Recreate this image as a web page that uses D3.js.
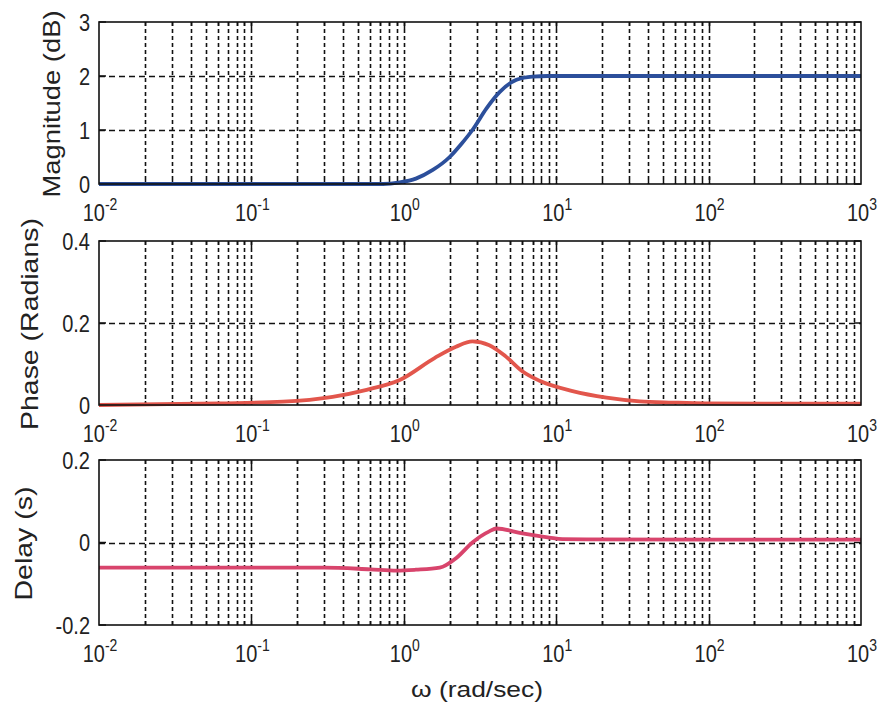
<!DOCTYPE html>
<html>
<head>
<meta charset="utf-8">
<script src="https://cdn.jsdelivr.net/npm/d3@7"></script>
<style>
  html, body { margin: 0; padding: 0; background: #fff; }
  svg { display: block; font-family: "Liberation Sans", Arial, sans-serif; }
</style>
</head>
<body>
<svg id="chart" width="879" height="707"></svg>
<script>
// Frequency response: magnitude, phase and delay against ω (rad/sec)
const omegaMag = [0.01, 0.1, 0.5, 0.73, 0.94, 1.2, 1.55, 2.0, 2.4, 2.82, 3.49, 4.25, 5.49, 6.98, 8.8, 12, 100, 1000];
const magnitude = [0, 0, 0, 0, 0.03, 0.1, 0.26, 0.5, 0.75, 1.0, 1.4, 1.7, 1.93, 1.99, 2.0, 2.0, 2.0, 2.0];

const omegaPhase = [0.01, 0.062, 0.161, 0.341, 0.57, 0.94, 1.6, 2.2, 2.82, 3.64, 4.68, 5.96, 7.78, 12.8, 21.4, 35.3, 58, 96, 1000];
const phase = [0, 0.004, 0.008, 0.02, 0.037, 0.061, 0.115, 0.142, 0.155, 0.146, 0.118, 0.083, 0.059, 0.034, 0.018, 0.009, 0.006, 0.004, 0.003];

const omegaDelay = [0.01, 0.3, 0.6, 0.9, 1.2, 1.72, 2.22, 2.82, 3.64, 4.06, 6.0, 9.0, 11, 100, 1000];
const delay = [-0.061, -0.061, -0.065, -0.068, -0.066, -0.061, -0.037, 0.0, 0.027, 0.034, 0.022, 0.012, 0.008, 0.007, 0.007];

const xDecades = [-2, -1, 0, 1, 2, 3];
const magTicks = [0, 1, 2, 3];
const phaseTicks = [0, 0.2, 0.4];
const delayTicks = [-0.2, 0, 0.2];

const panels = [
  { top: 22, bottom: 184, domain: [0, 3], ticks: magTicks, fmt: d => String(d),
    xs: omegaMag, ys: magnitude, color: "#2c4f9b",
    label: "Magnitude (dB)", labelX: 60, labelLen: 187 },
  { top: 241, bottom: 405, domain: [0, 0.4], ticks: phaseTicks, fmt: d => d === 0 ? "0" : d.toFixed(1),
    xs: omegaPhase, ys: phase, color: "#e2564c",
    label: "Phase (Radians)", labelX: 38, labelLen: 212 },
  { top: 460, bottom: 625, domain: [-0.2, 0.2], ticks: delayTicks, fmt: d => d === 0 ? "0" : d.toFixed(1),
    xs: omegaDelay, ys: delay, color: "#d8446c",
    label: "Delay (s)", labelX: 32, labelLen: 114 }
];

const svg = d3.select("#chart");
const x = d3.scaleLog().domain([1e-2, 1e3]).range([99, 861]);
const px = v => Math.round(x(v)) + 0.5;

// minor and major grid positions on the log axis
const gridX = [];
for (let k = -2; k < 3; k++) {
  for (let m = 1; m <= 9; m++) {
    const v = m * Math.pow(10, k);
    if (v > 1e-2) gridX.push(v);
  }
}

const ink = "#111";

panels.forEach(p => {
  const y = d3.scaleLinear().domain(p.domain).range([p.bottom, p.top]);
  const g = svg.append("g");

  // vertical grid
  g.selectAll(".vg").data(gridX).join("line")
    .attr("x1", px).attr("x2", px)
    .attr("y1", p.top).attr("y2", p.bottom)
    .attr("stroke", ink).attr("stroke-width", 1.6)
    .attr("stroke-dasharray", "4,3");

  // horizontal grid
  g.selectAll(".hg").data(p.ticks.slice(1, -1)).join("line")
    .attr("x1", 99).attr("x2", 861)
    .attr("y1", d => Math.round(y(d)) + 0.5).attr("y2", d => Math.round(y(d)) + 0.5)
    .attr("stroke", ink).attr("stroke-width", 1.4)
    .attr("stroke-dasharray", "6,4");

  // inward tick marks on all four edges
  const tickLen = d => Number.isInteger(Math.log10(d)) ? 7 : 4;
  g.selectAll(".tb").data(gridX).join("line")
    .attr("x1", px).attr("x2", px)
    .attr("y1", p.bottom).attr("y2", d => p.bottom - tickLen(d))
    .attr("stroke", ink).attr("stroke-width", 1.5);
  g.selectAll(".tt").data(gridX).join("line")
    .attr("x1", px).attr("x2", px)
    .attr("y1", p.top).attr("y2", d => p.top + tickLen(d))
    .attr("stroke", ink).attr("stroke-width", 1.5);
  g.selectAll(".tl").data(p.ticks).join("line")
    .attr("x1", 99).attr("x2", 106)
    .attr("y1", d => y(d)).attr("y2", d => y(d))
    .attr("stroke", ink).attr("stroke-width", 1.5);
  g.selectAll(".tr").data(p.ticks).join("line")
    .attr("x1", 861).attr("x2", 854)
    .attr("y1", d => y(d)).attr("y2", d => y(d))
    .attr("stroke", ink).attr("stroke-width", 1.5);

  // data curve
  const pts = p.xs.map((w, i) => [w, p.ys[i]]);
  const line = d3.line().x(d => x(d[0])).y(d => y(d[1])).curve(d3.curveMonotoneX);
  g.append("path").datum(pts)
    .attr("d", line)
    .attr("fill", "none")
    .attr("stroke", p.color)
    .attr("stroke-width", 3.8)
    .attr("stroke-linejoin", "round")
    .attr("stroke-linecap", "butt");

  // frame
  g.append("rect")
    .attr("x", 99).attr("y", p.top)
    .attr("width", 762).attr("height", p.bottom - p.top)
    .attr("fill", "none").attr("stroke", ink).attr("stroke-width", 1.6);

  // y tick labels
  g.selectAll(".yl").data(p.ticks).join("g")
    .attr("transform", d => `translate(90,${y(d) + 8.5}) scale(1,1.2)`)
    .append("text")
    .attr("text-anchor", "end")
    .attr("font-size", 20)
    .attr("fill", "#222")
    .text(p.fmt);

  // x tick labels: 10 with superscript exponent
  const xl = g.selectAll(".xl").data(xDecades).join("g")
    .attr("transform", d => `translate(${x(Math.pow(10, d)) + 1},${p.bottom + 37}) scale(1,1.2)`)
    .append("text")
    .attr("text-anchor", "middle")
    .attr("font-size", 20)
    .attr("fill", "#222");
  xl.append("tspan").text("10");
  xl.append("tspan").attr("dy", -9).attr("font-size", 14).text(d => String(d));

  // y axis label
  svg.append("text")
    .attr("transform", `translate(${p.labelX},${(p.top + p.bottom) / 2 + 1}) rotate(-90)`)
    .attr("text-anchor", "middle")
    .attr("font-size", 24)
    .attr("fill", "#222")
    .attr("textLength", p.labelLen)
    .attr("lengthAdjust", "spacingAndGlyphs")
    .text(p.label);
});

// x axis label
svg.append("text")
  .attr("x", 477).attr("y", 697)
  .attr("text-anchor", "middle")
  .attr("font-size", 22)
  .attr("fill", "#222")
  .attr("textLength", 132)
  .attr("lengthAdjust", "spacingAndGlyphs")
  .text("ω (rad/sec)");
</script>
</body>
</html>
